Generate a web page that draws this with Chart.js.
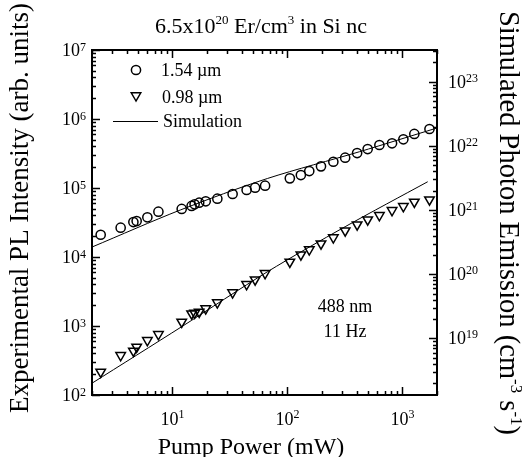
<!DOCTYPE html>
<html>
<head>
<meta charset="utf-8">
<script src="https://cdn.jsdelivr.net/npm/chart.js@4.4.1/dist/chart.umd.min.js"></script>
<style>
  html, body { margin: 0; padding: 0; background: #fff; }
  #c { display: block; }
</style>
</head>
<body>
<canvas id="c" width="524" height="457"></canvas>
<script>
// Pump power (mW) for each measurement
const pumpPower = [2.38, 3.55, 4.58, 4.89, 6.06, 7.56, 12.05, 14.7, 15.6, 17.1, 19.5, 24.6, 33.4, 44.2, 52.4, 64.0,
                   105, 131, 155, 196, 251, 318, 404, 499, 631, 813, 1020, 1270, 1720];
// Experimental PL intensity (arb. units), 1.54 µm emission
const pl154 = [2.10e4, 2.66e4, 3.21e4, 3.32e4, 3.76e4, 4.54e4, 4.97e4, 5.49e4, 5.80e4, 6.12e4, 6.41e4, 7.00e4, 8.19e4, 9.35e4, 1.01e5, 1.08e5,
               1.38e5, 1.54e5, 1.76e5, 2.06e5, 2.40e5, 2.75e5, 3.21e5, 3.67e5, 4.20e5, 4.44e5, 5.08e5, 6.07e5, 7.16e5];
// Experimental PL intensity (arb. units), 0.98 µm emission
const pl098 = [216, 376, 436, 497, 620, 757, 1145, 1511, 1549, 1600, 1786, 2182, 3047, 4018, 4698, 5794,
               8491, 1.08e4, 1.28e4, 1.56e4, 1.91e4, 2.41e4, 2.94e4, 3.48e4, 4.02e4, 4.75e4, 5.42e4, 6.28e4, 6.78e4];
// Simulated photon emission (cm^-3 s^-1)
const simPower154 = [2, 11.7, 67, 423, 2000];
const sim154 = [2.65e20, 1.0e21, 3.1e21, 8.1e21, 1.9e22];
const simPower098 = [2, 12.05, 67, 318, 1660];
const sim098 = [2.0e18, 1.52e19, 1.09e20, 5.5e20, 2.76e21];

// Axis ranges and labelled decades
const xRange = [2, 2000];
const leftRange = [1e2, 1e7];
const rightRange = [1.31e18, 3.12e23];
const xLabelExp = [1, 2, 3];
const leftLabelExp = [2, 3, 4, 5, 6, 7];
const rightLabelExp = [19, 20, 21, 22, 23];

const SERIF = "'Liberation Serif','Times New Roman',serif";

function partsWidth(ctx, parts, size, supSize) {
  let w = 0;
  for (const p of parts) {
    ctx.font = (p.sup ? supSize : size) + 'px ' + SERIF;
    w += ctx.measureText(p.t).width;
  }
  return w;
}
function drawRich(ctx, parts, x, y, align, size, supSize, raise) {
  const w = partsWidth(ctx, parts, size, supSize);
  let cx = align === 'center' ? x - w / 2 : (align === 'right' ? x - w : x);
  ctx.textAlign = 'left';
  ctx.textBaseline = 'alphabetic';
  for (const p of parts) {
    ctx.font = (p.sup ? supSize : size) + 'px ' + SERIF;
    ctx.fillText(p.t, cx, p.sup ? y - raise : y);
    cx += ctx.measureText(p.t).width;
  }
}
function pow10Label(e) { return [{ t: '10' }, { t: String(e), sup: true }]; }

function logTicks(min, max) {
  const out = [];
  const lo = Math.floor(Math.log10(min)), hi = Math.ceil(Math.log10(max));
  for (let p = lo; p <= hi; p++) {
    for (let m = 1; m <= 9; m++) {
      const v = m * Math.pow(10, p);
      if (v >= min * 0.9999 && v <= max * 1.0001) out.push({ v, major: m === 1 });
    }
  }
  return out;
}

function drawCircle(ctx, x, y, r) {
  ctx.beginPath(); ctx.arc(x, y, r, 0, Math.PI * 2); ctx.stroke();
}
function drawTriangleDown(ctx, x, y, r) {
  ctx.beginPath();
  ctx.moveTo(x, y + r);
  ctx.lineTo(x - 0.866 * r, y - 0.5 * r);
  ctx.lineTo(x + 0.866 * r, y - 0.5 * r);
  ctx.closePath(); ctx.stroke();
}

const decorations = {
  id: 'decorations',
  afterDraw(chart) {
    const ctx = chart.ctx;
    const a = chart.chartArea;
    const xs = chart.scales.x, ys = chart.scales.y, y1 = chart.scales.y1;
    ctx.save();
    ctx.fillStyle = '#000';
    ctx.strokeStyle = '#000';

    // frame
    ctx.lineWidth = 2;
    ctx.strokeRect(a.left, a.top, a.right - a.left, a.bottom - a.top);

    // inward tick marks
    ctx.lineWidth = 1.5;
    ctx.beginPath();
    for (const t of logTicks(xRange[0], xRange[1])) {
      const px = Math.round(xs.getPixelForValue(t.v)) + 0.5;
      const len = t.major ? 8 : 4;
      ctx.moveTo(px, a.bottom); ctx.lineTo(px, a.bottom - len);
      ctx.moveTo(px, a.top); ctx.lineTo(px, a.top + len);
    }
    for (const t of logTicks(leftRange[0], leftRange[1])) {
      const py = Math.round(ys.getPixelForValue(t.v)) + 0.5;
      const len = t.major ? 8 : 4;
      ctx.moveTo(a.left, py); ctx.lineTo(a.left + len, py);
    }
    for (const t of logTicks(rightRange[0], rightRange[1])) {
      const py = Math.round(y1.getPixelForValue(t.v)) + 0.5;
      const len = t.major ? 8 : 4;
      ctx.moveTo(a.right, py); ctx.lineTo(a.right - len, py);
    }
    ctx.stroke();

    // tick labels
    for (const e of xLabelExp) {
      const px = xs.getPixelForValue(Math.pow(10, e));
      drawRich(ctx, pow10Label(e), px, a.bottom + 30, 'center', 18, 12, 7);
    }
    for (const e of leftLabelExp) {
      const py = ys.getPixelForValue(Math.pow(10, e));
      drawRich(ctx, pow10Label(e), a.left - 6, py + 6, 'right', 18, 12, 5);
    }
    for (const e of rightLabelExp) {
      const py = y1.getPixelForValue(Math.pow(10, e));
      drawRich(ctx, pow10Label(e), a.right + 11, py + 6, 'left', 18, 12, 6);
    }

    // title
    drawRich(ctx, [{ t: '6.5x10' }, { t: '20', sup: true }, { t: ' Er/cm' }, { t: '3', sup: true }, { t: ' in Si nc' }],
             261, 33, 'center', 22, 13, 9);

    // x axis title
    drawRich(ctx, [{ t: 'Pump Power (mW)' }], 251, 454, 'center', 24, 14, 0);

    // left axis title
    ctx.save();
    ctx.translate(28, 208);
    ctx.rotate(-Math.PI / 2);
    drawRich(ctx, [{ t: 'Experimental PL Intensity (arb. units)' }], 0, 0, 'center', 27, 16, 0);
    ctx.restore();

    // right axis title
    ctx.save();
    ctx.translate(500, 223);
    ctx.rotate(Math.PI / 2);
    drawRich(ctx, [{ t: 'Simulated Photon Emission (cm' }, { t: '-3', sup: true }, { t: ' s' }, { t: '-1', sup: true }, { t: ')' }],
             0, 0, 'center', 28.5, 17, 11);
    ctx.restore();

    // legend
    ctx.lineWidth = 1.5;
    drawCircle(ctx, a.left + 44, a.top + 20, 4.6);
    drawTriangleDown(ctx, a.left + 44, a.top + 45.5, 5.5);
    ctx.lineWidth = 1;
    ctx.beginPath();
    ctx.moveTo(a.left + 21, a.top + 71.5); ctx.lineTo(a.left + 66, a.top + 71.5);
    ctx.stroke();
    drawRich(ctx, [{ t: '1.54 \u00B5m' }], a.left + 69, a.top + 26, 'left', 18, 12, 0);
    drawRich(ctx, [{ t: '0.98 \u00B5m' }], a.left + 70, a.top + 53, 'left', 18, 12, 0);
    drawRich(ctx, [{ t: 'Simulation' }], a.left + 71, a.top + 77, 'left', 18, 12, 0);

    // excitation conditions
    drawRich(ctx, [{ t: '488 nm' }], a.left + 253, a.top + 262, 'center', 18, 12, 0);
    drawRich(ctx, [{ t: '11 Hz' }], a.left + 253, a.top + 287, 'center', 18, 12, 0);

    ctx.restore();
  }
};

const toPoints = (xs, ys) => xs.map((x, i) => ({ x, y: ys[i] }));

new Chart(document.getElementById('c'), {
  type: 'scatter',
  data: {
    datasets: [
      {
        label: '1.54 \u00B5m', data: toPoints(pumpPower, pl154), yAxisID: 'y',
        pointStyle: 'circle', pointRadius: 4.6, pointBorderWidth: 1.5,
        borderColor: '#000', backgroundColor: 'rgba(0,0,0,0)', showLine: false
      },
      {
        label: '0.98 \u00B5m', data: toPoints(pumpPower, pl098), yAxisID: 'y',
        pointStyle: 'triangle', rotation: 180, pointRadius: 5.5, pointBorderWidth: 1.5,
        borderColor: '#000', backgroundColor: 'rgba(0,0,0,0)', showLine: false
      },
      {
        label: 'Simulation', data: toPoints(simPower154, sim154), yAxisID: 'y1',
        showLine: true, pointRadius: 0, borderWidth: 1, borderColor: '#000', tension: 0.3
      },
      {
        label: 'Simulation', data: toPoints(simPower098, sim098), yAxisID: 'y1',
        showLine: true, pointRadius: 0, borderWidth: 1, borderColor: '#000', tension: 0.3
      }
    ]
  },
  options: {
    responsive: false,
    animation: false,
    events: [],
    layout: { padding: { left: 92, top: 50, right: 87, bottom: 62 } },
    plugins: { legend: { display: false }, tooltip: { enabled: false } },
    scales: {
      x: { type: 'logarithmic', min: xRange[0], max: xRange[1], display: false },
      y: { type: 'logarithmic', min: leftRange[0], max: leftRange[1], display: false },
      y1: { type: 'logarithmic', position: 'right', min: rightRange[0], max: rightRange[1], display: false }
    }
  },
  plugins: [decorations]
});
</script>
</body>
</html>
